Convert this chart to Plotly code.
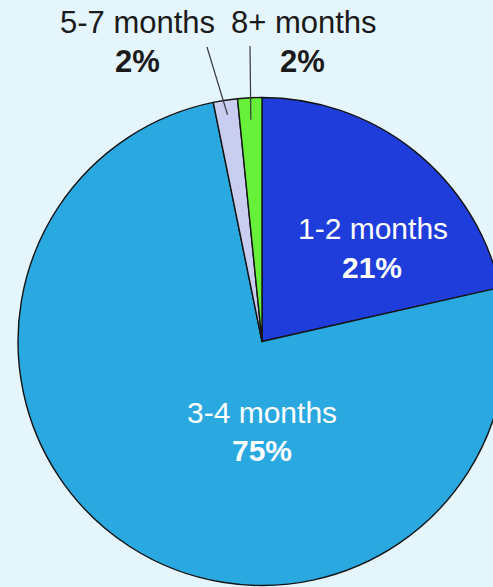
import math
import plotly.graph_objects as go

# ---- data ----
categories = ["1-2 months", "3-4 months", "5-7 months", "8+ months"]
values = [21.45, 75.35, 1.6, 1.6]
pct_labels = ["21%", "75%", "2%", "2%"]
colors = ["#1e3ddb", "#2aa8e0", "#c9cdf0", "#66f03a"]

# ---- layout geometry (pixels) ----
W, H = 510, 587
CX, CY, R = 262, 341.5, 244

def px(x):
    return x / W

def py(y):
    return 1 - y / H

label_pos = [(373, 228), (262, 412), (137, 22), (304, 22)]
pct_pos = [(372, 267), (262, 450), (137, 62), (302, 62)]
font_sizes = [30, 30, 31, 31]
leader_start = {2: (207, 47), 3: (250, 46)}
leader_frac = {2: 0.94, 3: 0.91}
text_colors = ["white", "white", "#1a1a1a", "#1a1a1a"]
FONT = "Liberation Sans, Arial, sans-serif"

fig = go.Figure(go.Pie(
    labels=categories,
    values=values,
    sort=False,
    direction="clockwise",
    rotation=0,
    marker=dict(colors=colors, line=dict(color="#141414", width=1.4)),
    textinfo="none",
    hoverinfo="skip",
    showlegend=False,
    domain=dict(x=[px(CX - R), px(CX + R)], y=[py(CY + R), py(CY - R)]),
))

annotations = []
for i, cat in enumerate(categories):
    lx, ly = label_pos[i]
    annotations.append(dict(x=px(lx), y=py(ly), xref="paper", yref="paper",
                            text=cat, showarrow=False, xanchor="center", yanchor="middle",
                            font=dict(family=FONT, size=font_sizes[i], color=text_colors[i])))
    qx, qy = pct_pos[i]
    annotations.append(dict(x=px(qx), y=py(qy), xref="paper", yref="paper",
                            text="<b>" + pct_labels[i] + "</b>", showarrow=False,
                            xanchor="center", yanchor="middle",
                            font=dict(family=FONT, size=font_sizes[i], color=text_colors[i])))

# leader lines toward the small slices (angles derived from data)
total = sum(values)
shapes = []
cum = 0
for i, v in enumerate(values):
    start = cum / total * 360
    cum += v
    end = cum / total * 360
    if i in leader_start:
        mid = math.radians((start + end) / 2)
        r = R * leader_frac[i]
        tx = CX + r * math.sin(mid)
        ty = CY - r * math.cos(mid)
        sx, sy = leader_start[i]
        shapes.append(dict(type="line", xref="paper", yref="paper",
                           x0=px(sx), y0=py(sy), x1=px(tx), y1=py(ty),
                           line=dict(color="#3a3a3a", width=1.2)))

fig.update_layout(
    width=W, height=H,
    margin=dict(l=0, r=0, t=0, b=0),
    paper_bgcolor="#e4f5fc",
    plot_bgcolor="#e4f5fc",
    annotations=annotations,
    shapes=shapes,
)

fig.write_html(
    "out.html",
    config={"displayModeBar": False, "staticPlot": True},
    post_script="document.body.style.margin='0';document.body.style.overflow='hidden';"
                "document.documentElement.style.overflow='hidden';",
)
